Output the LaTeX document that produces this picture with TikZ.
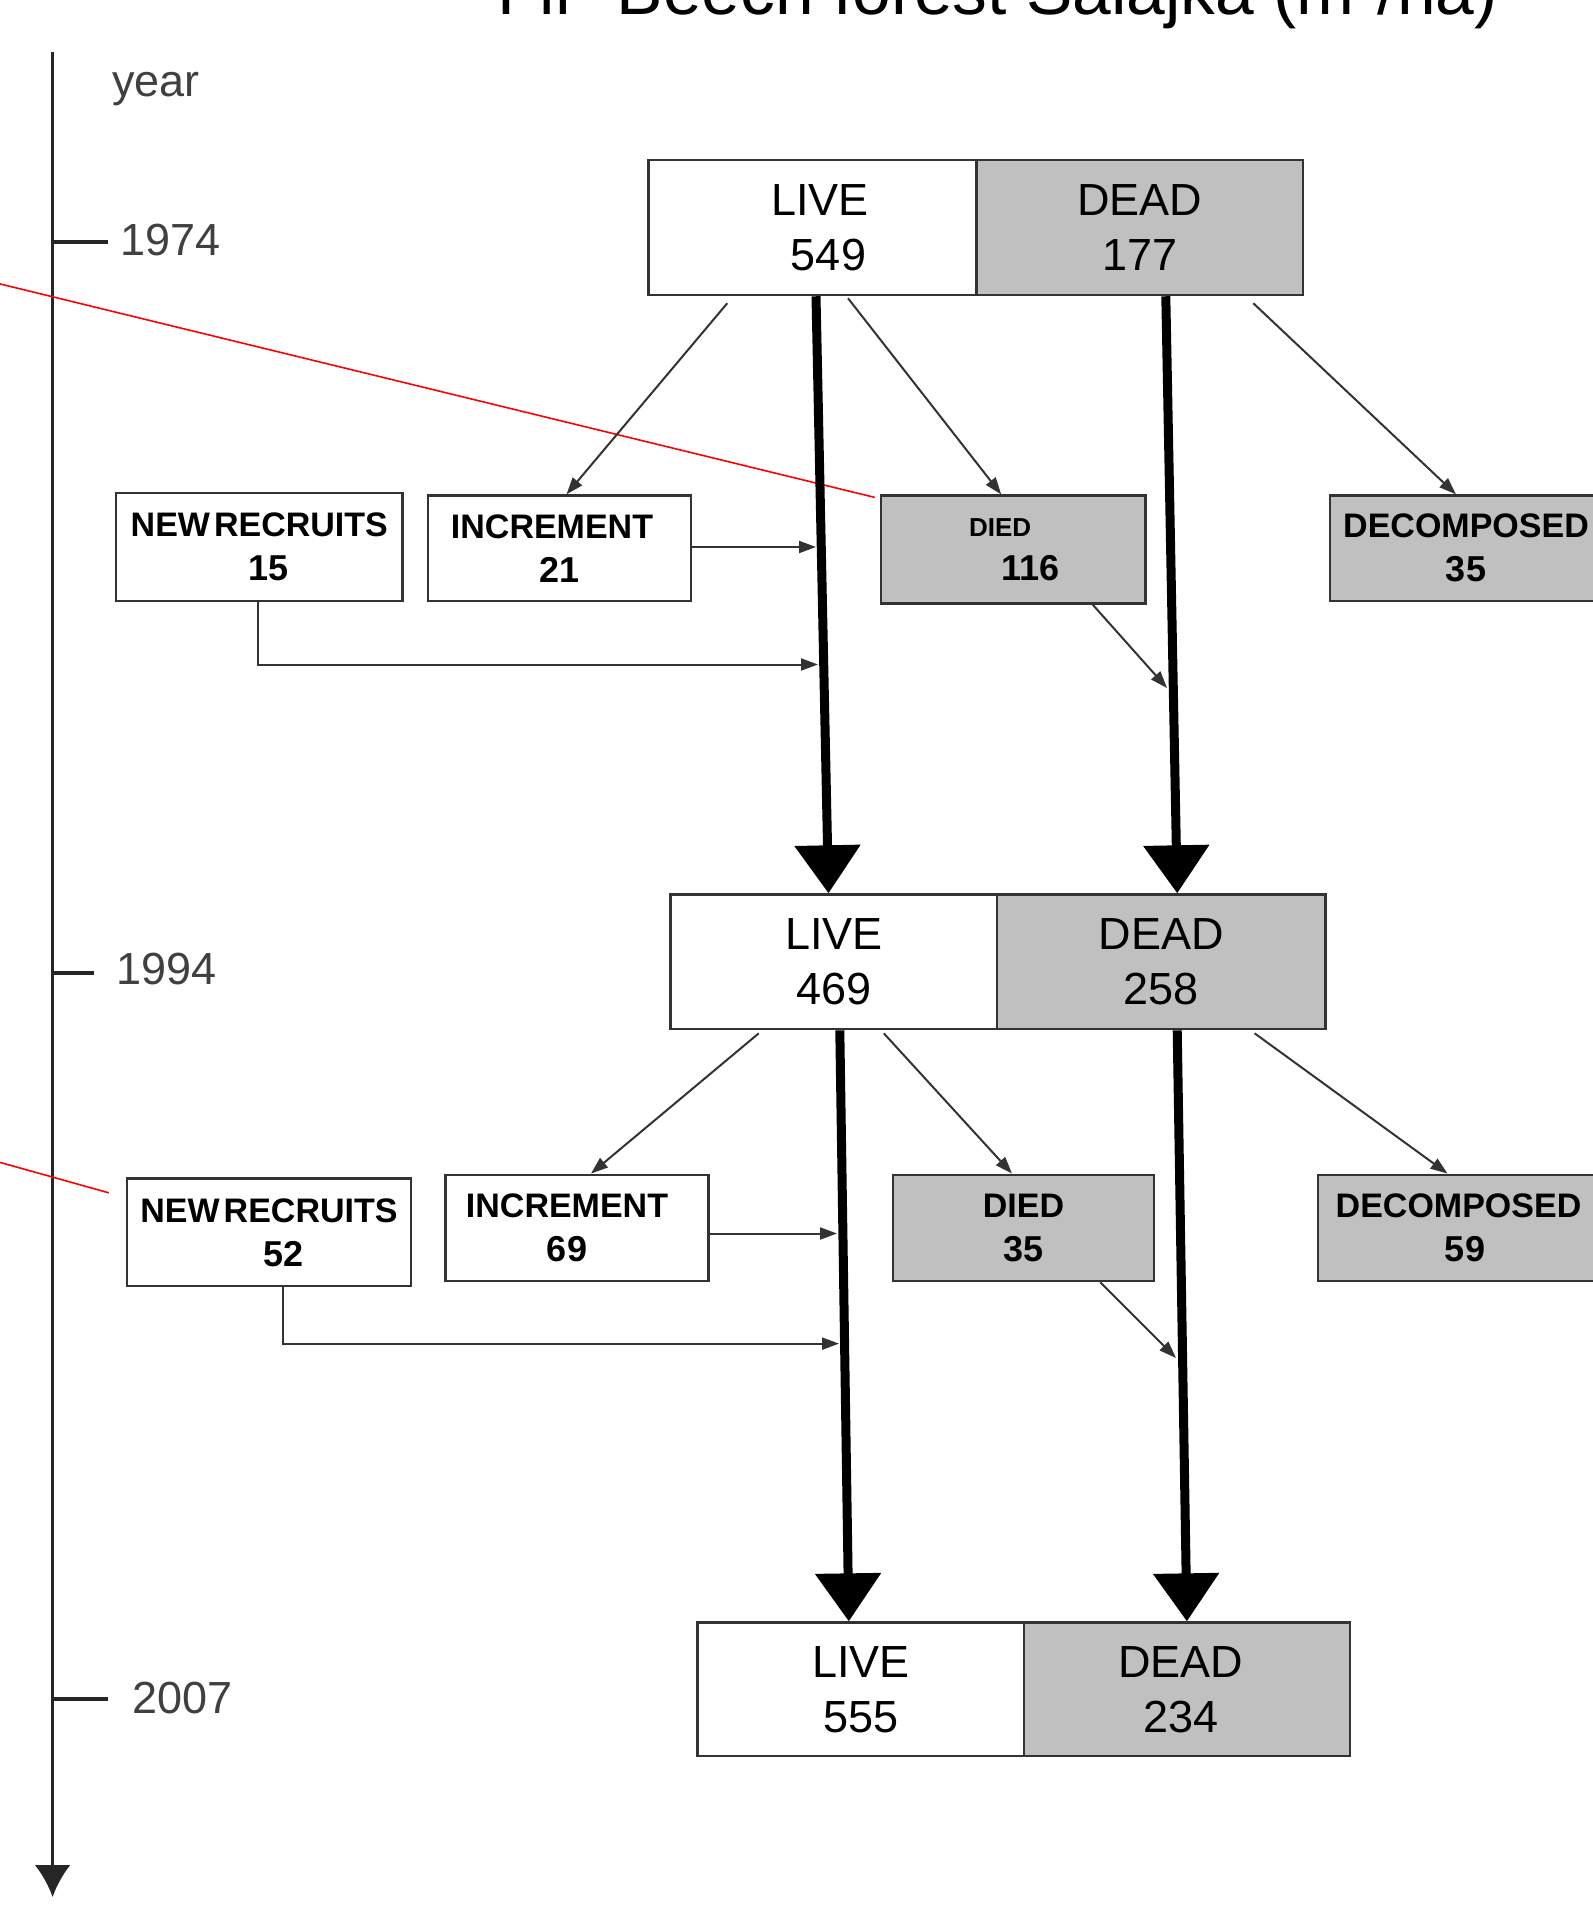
\documentclass[tikz,border=0pt]{standalone}
\usepackage{fontspec}
\setmainfont{Liberation Sans}
\usetikzlibrary{arrows.meta}
\definecolor{ln}{HTML}{333333}
\definecolor{gfill}{HTML}{C0C0C0}
\definecolor{yeartxt}{HTML}{404040}
\newcommand\numsz{\fontsize{36}{44}\selectfont}
\begin{document}
\begin{tikzpicture}[x=1pt,y=-1pt,
  box/.style={draw=ln, line width=2.5pt, inner sep=0pt, align=center, text=black},
  bigbox/.style={box, font=\fontsize{45}{55}\selectfont},
  smallbox/.style={box, font=\bfseries\fontsize{34}{44}\selectfont},
  livecol/.style={fill=white},
  deadcol/.style={fill=gfill},
  thickarrow/.style={line width=9pt, draw=black, -{Triangle[length=48pt,width=64pt]}},
  thinarrow/.style={draw=ln, line width=2pt, -{Triangle[length=17pt,width=12pt]}},
  redline/.style={draw=red, line width=1.6pt},
  axisline/.style={draw=black!85, line width=3.5pt},
  yearlbl/.style={text=yeartxt, font=\fontsize{45}{50}\selectfont, anchor=base west, inner sep=0pt},
]
\fill[white] (0,0) rectangle (1592,1918);
\useasboundingbox (0,0) rectangle (1592,1918);

% title (partly cut off at the top, as in the reference)
\node[anchor=base west, inner sep=0pt, font=\fontsize{69.5}{80}\selectfont] (title) at (497,15) {Fir–Beech forest Salajka (m³/ha)};

% time axis
\coordinate (axtop) at (52.6,52);
\coordinate (axbot) at (52.6,1897);
\draw[axisline, -{Latex[length=32pt,width=36pt]}] (axtop) -- (axbot);
\coordinate (t1) at (108,242);
\coordinate (t2) at (94,973);
\coordinate (t3) at (108,1699);
\draw[axisline] (axtop |- t1) -- (t1);
\draw[axisline] (axtop |- t2) -- (t2);
\draw[axisline] (axtop |- t3) -- (t3);
\node[yearlbl] (ylab) at (112,97) {year};
\node[yearlbl] (y1974) at (120,255) {1974};
\node[yearlbl] (y1994) at (116,984) {1994};
\node[yearlbl] (y2007) at (132,1713) {2007};

% big boxes
\node[bigbox, livecol, minimum width=328pt, minimum height=135pt] (live1) at (812.5,227.5) {\hspace*{15pt}LIVE\\\hspace*{32pt}549};
\node[bigbox, deadcol, minimum width=326.5pt, minimum height=135pt] (dead1) at (1139.8,227.5) {DEAD\\177};
\node[bigbox, livecol, minimum width=326.4pt, minimum height=134.5pt] (live2) at (833.8,961.8) {LIVE\\469};
\node[bigbox, deadcol, minimum width=328.3pt, minimum height=134.5pt] (dead2) at (1161.2,961.8) {DEAD\\258};
\node[bigbox, livecol, minimum width=326.5pt, minimum height=133.4pt] (live3) at (860.8,1689.3) {LIVE\\555};
\node[bigbox, deadcol, minimum width=325.7pt, minimum height=133.4pt] (dead3) at (1186.9,1689.3) {DEAD\hspace*{12pt}\\234\hspace*{12pt}};

% small boxes, first period
\node[smallbox, livecol, minimum width=286.6pt, minimum height=107.8pt] (nr1) at (259.3,546.9) {NEW\hspace{4pt}RECRUITS\\\hspace*{18pt}\numsz 15};
\node[smallbox, livecol, minimum width=263pt, minimum height=105.2pt] (inc1) at (559.5,548.2) {INCREMENT\hspace*{15pt}\\\numsz 21};
\node[smallbox, deadcol, minimum width=264.4pt, minimum height=107.7pt] (died1) at (1013.2,549.5) {{\fontsize{26}{44}\selectfont DIED}\hspace*{26pt}\\\hspace*{34pt}\numsz 116};
\node[smallbox, deadcol, minimum width=272pt, minimum height=105.2pt] (dec1) at (1466,548.2) {DECOMPOSED\\\numsz 35};

% small boxes, second period
\node[smallbox, livecol, minimum width=284pt, minimum height=107.5pt] (nr2) at (269,1232.3) {NEW\hspace{4pt}RECRUITS\\\hspace*{30pt}\numsz 52};
\node[smallbox, livecol, minimum width=263pt, minimum height=106.2pt] (inc2) at (577,1227.9) {INCREMENT\hspace*{20pt}\\\numsz 69\hspace*{20pt}};
\node[smallbox, deadcol, minimum width=261pt, minimum height=106.2pt] (died2) at (1023.5,1227.9) {DIED\\\numsz 35};
\node[smallbox, deadcol, minimum width=281pt, minimum height=106.2pt] (dec2) at (1458.5,1227.9) {DECOMPOSED\\\hspace*{13pt}\numsz 59};

% red annotation lines
\coordinate (r1) at (-10,281.5);
\coordinate (r2) at (-10,1159.6);
\draw[redline] (r1) -- ([xshift=-5pt,yshift=-3pt]died1.north west);
\draw[redline] (r2) -- ([xshift=-17pt,yshift=-15.5pt]nr2.north west);

% thick stock arrows
\draw[thickarrow] ([xshift=3.5pt]live1.south) -- ([xshift=-5.3pt]live2.north);
\draw[thickarrow] ([xshift=26pt]dead1.south) -- ([xshift=16pt]dead2.north);
\draw[thickarrow] ([xshift=6pt]live2.south) -- ([xshift=-12pt]live3.north);
\draw[thickarrow] ([xshift=16pt]dead2.south) -- (dead3.north);

% flows, first period
\draw[thinarrow] ([xshift=80pt,yshift=-7pt]live1.south west) -- ([xshift=7pt]inc1.north);
\draw[thinarrow] ([xshift=35.5pt,yshift=-2pt]live1.south) -- ([xshift=-12pt]died1.north);
\draw[thinarrow] ([xshift=-51pt,yshift=-7pt]dead1.south east) -- ([xshift=-10pt]dec1.north);
\coordinate (j1) at (816,547);
\coordinate (j2) at (818,664.5);
\coordinate (j3) at (1167,688);
\draw[thinarrow] (inc1.east |- j1) -- (j1);
\draw[thinarrow] ([xshift=-1pt]nr1.south) |- (j2);
\draw[thinarrow] ([xshift=-54pt]died1.south east) -- (j3);

% flows, second period
\draw[thinarrow] ([xshift=89.4pt,yshift=-3pt]live2.south west) -- ([xshift=14pt]inc2.north);
\draw[thinarrow] ([xshift=50pt,yshift=-3pt]live2.south) -- ([xshift=-11.5pt]died2.north);
\draw[thinarrow] ([xshift=-72pt,yshift=-3pt]dead2.south east) -- ([xshift=-11pt]dec2.north);
\coordinate (j4) at (837,1233.5);
\coordinate (j5) at (839,1343.6);
\coordinate (j6) at (1176,1358);
\draw[thinarrow] (inc2.east |- j4) -- (j4);
\draw[thinarrow] ([xshift=14pt]nr2.south) |- (j5);
\draw[thinarrow] ([xshift=-55pt]died2.south east) -- (j6);
\end{tikzpicture}
\end{document}
